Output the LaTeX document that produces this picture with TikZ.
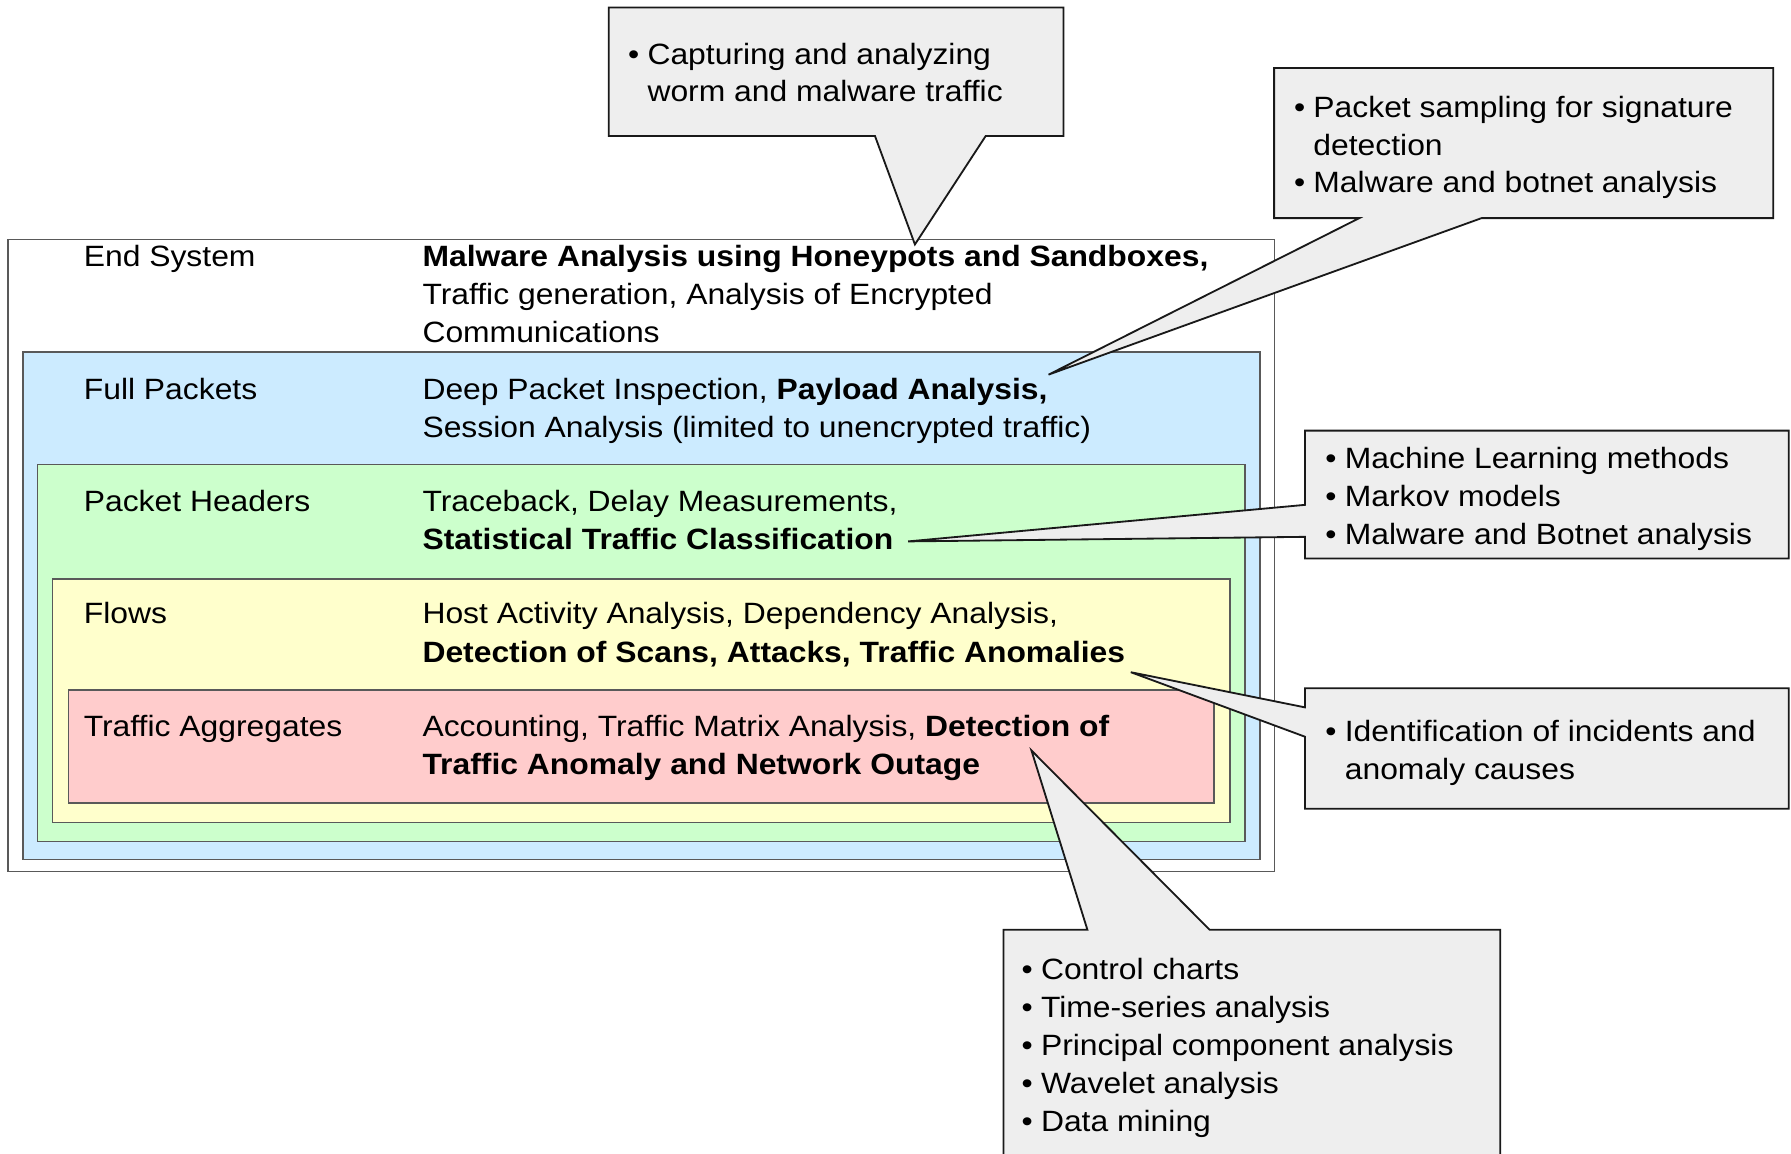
\documentclass[tikz,border=0pt]{standalone}
\usepackage{fontspec}
\setmainfont[FakeStretch=1.085]{Liberation Sans}
\definecolor{lblue}{HTML}{CCEBFF}
\definecolor{lgreen}{HTML}{CCFFCC}
\definecolor{lyellow}{HTML}{FFFFCC}
\definecolor{lred}{HTML}{FFCCCC}
\definecolor{cgray}{HTML}{EEEEEE}
\newcommand{\bul}{\llap{\textbullet\hspace{3.6pt}}}
\begin{document}
\begin{tikzpicture}[x=0.5pt,y=-0.5pt,
  txt/.style={anchor=base west,inner sep=0pt,font=\fontsize{12.85pt}{16pt}\selectfont},
  layer/.style={draw=black!65,line width=0.65pt},
  callout/.style={fill=cgray,draw=black!90,line width=0.8pt,line join=miter}]
\useasboundingbox (0,0) rectangle (1568,1010);
\clip (0,0) rectangle (1568,1010);

% layers
\draw[layer,fill=white]   (7,209.5) rectangle (1116,763);
\draw[layer,fill=lblue]   (20,308) rectangle (1103,752.5);
\draw[layer,fill=lgreen]  (33,406.5) rectangle (1090,736.5);
\draw[layer,fill=lyellow] (46,507) rectangle (1077,720);
\draw[layer,fill=lred]    (60,604) rectangle (1063,703);

% layer texts
\node[txt] (es)  at (73,233.5) {End System};
\node[txt] (es1) at (369.5,233.5) {\textbf{Malware Analysis using Honeypots and Sandboxes,}};
\node[txt] (es2) at (369.5,266.8) {Traffic generation, Analysis of Encrypted};
\node[txt] (es3) at (369.5,300.1) {Communications};

\node[txt] (fp)  at (73,349.6) {Full Packets};
\node[txt] (fp1) at (369.5,349.6) {Deep Packet Inspection, \textbf{Payload Analysis,}};
\node[txt] (fp2) at (369.5,382.9) {Session Analysis (limited to unencrypted traffic)};

\node[txt] (ph)  at (73,448) {Packet Headers};
\node[txt] (ph1) at (369.5,448) {Traceback, Delay Measurements,};
\node[txt] (ph2) at (369.5,481.3) {\textbf{Statistical Traffic Classification}};

\node[txt] (fl)  at (73,546.3) {Flows};
\node[txt] (fl1) at (369.5,546.3) {Host Activity Analysis, Dependency Analysis,};
\node[txt] (fl2) at (369.5,579.6) {\textbf{Detection of Scans, Attacks, Traffic Anomalies}};

\node[txt] (ta)  at (73,645) {Traffic Aggregates};
\node[txt] (ta1) at (369.5,645) {Accounting, Traffic Matrix Analysis, \textbf{Detection of}};
\node[txt] (ta2) at (369.5,678.3) {\textbf{Traffic Anomaly and Network Outage}};

% callout tips
\coordinate (t1) at (801,214);
\coordinate (t2) at (918,328);
\coordinate (t3) at (795,474);
\coordinate (t4) at (990,588.5);
\coordinate (t5) at (903,657);

% callouts
\draw[callout] (533,6.5) -- (931,6.5) -- (931,119) -- (863,119) -- (t1) -- (766,119) -- (533,119) -- cycle;
\draw[callout] (1115.5,59.5) -- (1552.5,59.5) -- (1552.5,191) -- (1297,191) -- (t2) -- (1190,191) -- (1115.5,191) -- cycle;
\draw[callout] (1142.5,377) -- (1566,377) -- (1566,489) -- (1142.5,489) -- (1142.5,470) -- (t3) -- (1142.5,442) -- cycle;
\draw[callout] (1142.5,602.5) -- (1566,602.5) -- (1566,708) -- (1142.5,708) -- (1142.5,645) -- (t4) -- (1142.5,619.3) -- cycle;
\draw[callout] (878.5,814) -- (952,814) -- (t5) -- (1059,814) -- (1313.5,814) -- (1313.5,1040) -- (878.5,1040) -- cycle;

% callout texts
\node[txt] (c1a) at (566.5,56.5) {\bul Capturing and analyzing};
\node[txt] (c1b) at (566.5,89) {worm and malware traffic};

\node[txt] (c2a) at (1149.5,102.5) {\bul Packet sampling for signature};
\node[txt] (c2b) at (1149.5,135.8) {detection};
\node[txt] (c2c) at (1149.5,168.8) {\bul Malware and botnet analysis};

\node[txt] (c3a) at (1177,410.2) {\bul Machine Learning methods};
\node[txt] (c3b) at (1177,443.5) {\bul Markov models};
\node[txt] (c3c) at (1177,476.5) {\bul Malware and Botnet analysis};

\node[txt] (c4a) at (1177,649) {\bul Identification of incidents and};
\node[txt] (c4b) at (1177,682.3) {anomaly causes};

\node[txt] (c5a) at (911,857.5) {\bul Control charts};
\node[txt] (c5b) at (911,890.75) {\bul Time-series analysis};
\node[txt] (c5c) at (911,924) {\bul Principal component analysis};
\node[txt] (c5d) at (911,957.25) {\bul Wavelet analysis};
\node[txt] (c5e) at (911,990.5) {\bul Data mining};
\end{tikzpicture}
\end{document}
